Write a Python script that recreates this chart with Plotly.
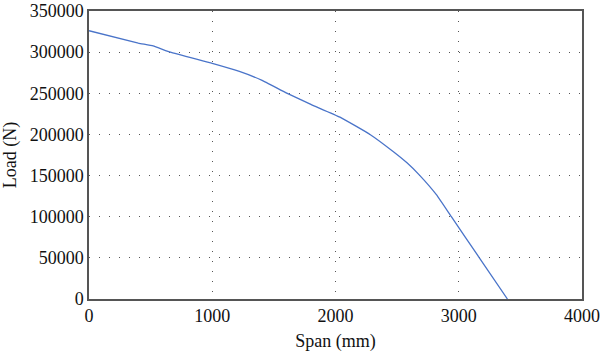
import plotly.graph_objects as go

span_mm = [0, 400, 520, 660, 1000, 1220, 1400, 1600, 1800, 2036, 2280, 2470, 2580, 2685, 2820, 2940, 3170, 3395]
load_n = [326000, 311000, 307500, 300000, 286400, 276500, 266000, 250500, 236500, 221000, 200000, 179000, 165500, 150000, 126500, 100000, 49500, 0]

x_ticks = [0, 1000, 2000, 3000, 4000]
y_ticks = [0, 50000, 100000, 150000, 200000, 250000, 300000, 350000]

fig = go.Figure()
fig.add_trace(go.Scatter(x=span_mm, y=load_n, mode="lines",
                         line=dict(color="#4a74c9", width=1.3, shape="spline", smoothing=0.3),
                         showlegend=False))

font = dict(family="Liberation Serif", size=18, color="#111111")
fig.update_layout(
    width=600, height=352,
    margin=dict(l=89, r=18, t=11, b=53),
    paper_bgcolor="white", plot_bgcolor="white",
    font=font,
)
axis_common = dict(showline=True, linecolor="#555555", linewidth=1.5, mirror=True,
                   showgrid=True, gridcolor="#555555", griddash="1px,9px", gridwidth=1.2,
                   zeroline=False, ticks="", tickfont=font, automargin=False)
fig.update_xaxes(range=[0, 4000], tickvals=x_ticks, ticktext=[str(v) for v in x_ticks],
                 title=dict(text="Span (mm)", font=font, standoff=9), **axis_common)
fig.update_yaxes(range=[0, 350000], tickvals=y_ticks, ticktext=[str(v) for v in y_ticks],
                 title=dict(text="Load (N)", font=font, standoff=9), **axis_common)

fig.write_html("out.html")
